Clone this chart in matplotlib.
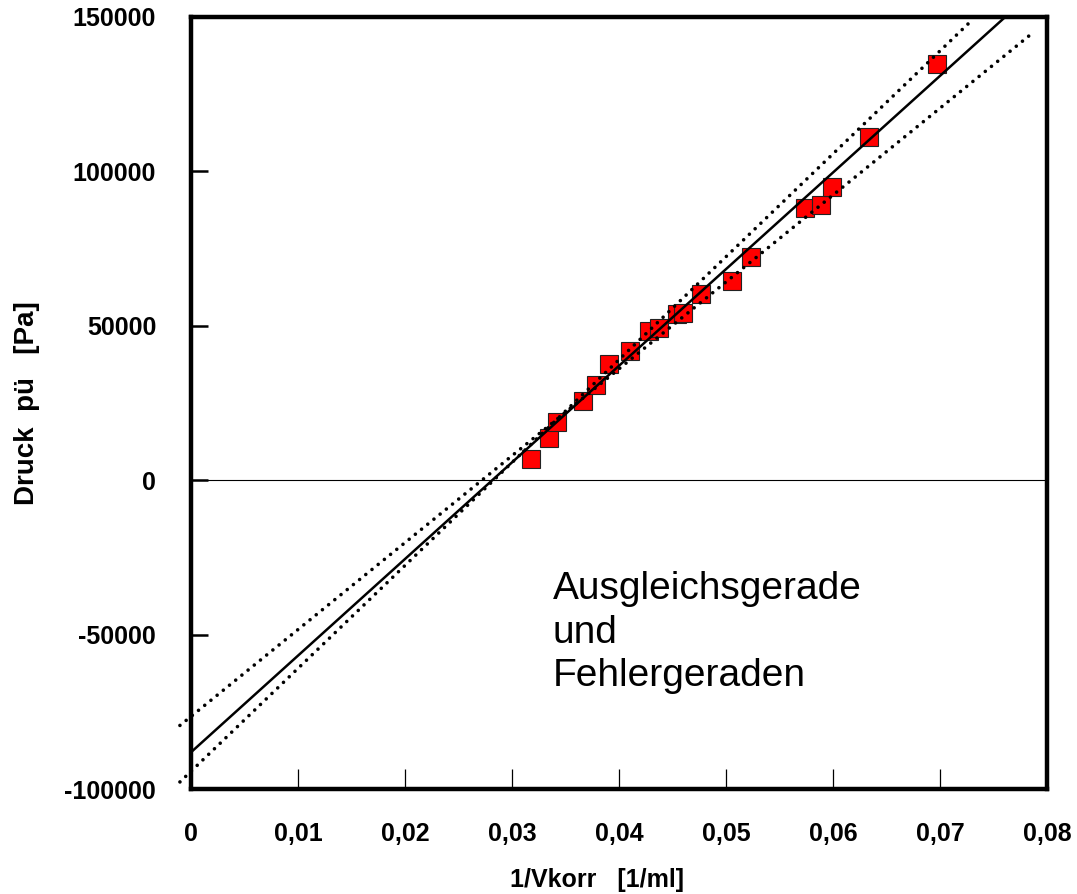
#!/usr/bin/env python3
# Druck vs 1/Vkorr with regression line and error lines

import numpy as np
import matplotlib
matplotlib.use('Agg')
import matplotlib.pyplot as plt

plt.rcParams.update({
    'font.family': ['Liberation Sans', 'DejaVu Sans'],
    'font.weight': 'bold',
})

# measured points
inv_v = [0.03174, 0.03346, 0.03421, 0.03664, 0.03788, 0.03910, 0.04103,
         0.04278, 0.04374, 0.04545, 0.04598, 0.04766, 0.05059, 0.05231,
         0.05741, 0.05891, 0.05991, 0.06334, 0.06969]
druck = [7000, 13800, 18700, 25700, 30700, 37500, 41800,
         48300, 49300, 53700, 54300, 60300, 64500, 72300,
         88300, 89100, 95100, 111200, 134900]

# Ausgleichsgerade (endpoints)
fit_x = [0.0, 0.0761]
fit_y = [-88100, 150000]
# Fehlergeraden (endpoints)
err1_x = [-0.00103, 0.0784]
err1_y = [-79400, 144100]
err2_x = [-0.00103, 0.0727]
err2_y = [-97700, 148000]

xticks = [0, 0.01, 0.02, 0.03, 0.04, 0.05, 0.06, 0.07, 0.08]
xticklabels = ['0', '0,01', '0,02', '0,03', '0,04', '0,05', '0,06', '0,07', '0,08']
yticks = [-100000, -50000, 0, 50000, 100000, 150000]
yticklabels = ['-100000', '-50000', '0', '50000', '100000', '150000']

fig = plt.figure(figsize=(10.77, 8.94), dpi=100)
ax = fig.add_axes([0.1773, 0.1174, 0.9721 - 0.1773, 0.981 - 0.1174])

ax.plot(inv_v, druck, linestyle='none', marker='s', markersize=13.5,
        markerfacecolor='#ff0000', markeredgecolor='#222222',
        markeredgewidth=0.8, zorder=2)

ax.axhline(0, color='black', lw=0.8, zorder=1)
ax.plot(fit_x, fit_y, color='black', lw=1.8, zorder=3)
dots = (0, (0.01, 2.2))
for ex, ey in [(err1_x, err1_y), (err2_x, err2_y)]:
    ax.plot(ex, ey, color='black', lw=2.6, linestyle=dots,
            dash_capstyle='round', clip_on=False, zorder=3)

# last line baseline
ax.text(0.0338, -66700, 'Ausgleichsgerade\nund\nFehlergeraden',
        fontsize=28, fontweight='normal', ha='left', va='baseline',
        linespacing=1.27)

ax.set_xlim(0, 0.08)
ax.set_ylim(-100000, 150000)
ax.set_xticks(xticks)
ax.set_xticklabels(xticklabels, fontsize=18, fontweight='bold')
ax.set_yticks(yticks)
ax.set_yticklabels(yticklabels, fontsize=18, fontweight='bold')
ax.tick_params(axis='x', direction='in', length=14.5, width=0.9, pad=24)
ax.tick_params(axis='y', direction='in', length=12, width=1.8, pad=25)

for s in ax.spines.values():
    s.set_linewidth(3.2)

ax.set_xlabel('1/Vkorr   [1/ml]', fontsize=18, fontweight='bold')
ax.xaxis.set_label_coords(0.474, -0.102)
ax.set_ylabel('Druck  pü   [Pa]', fontsize=20, fontweight='bold')
ax.yaxis.set_label_coords(-0.176, 0.5)

plt.savefig('out.png', dpi=100)
plt.close()
